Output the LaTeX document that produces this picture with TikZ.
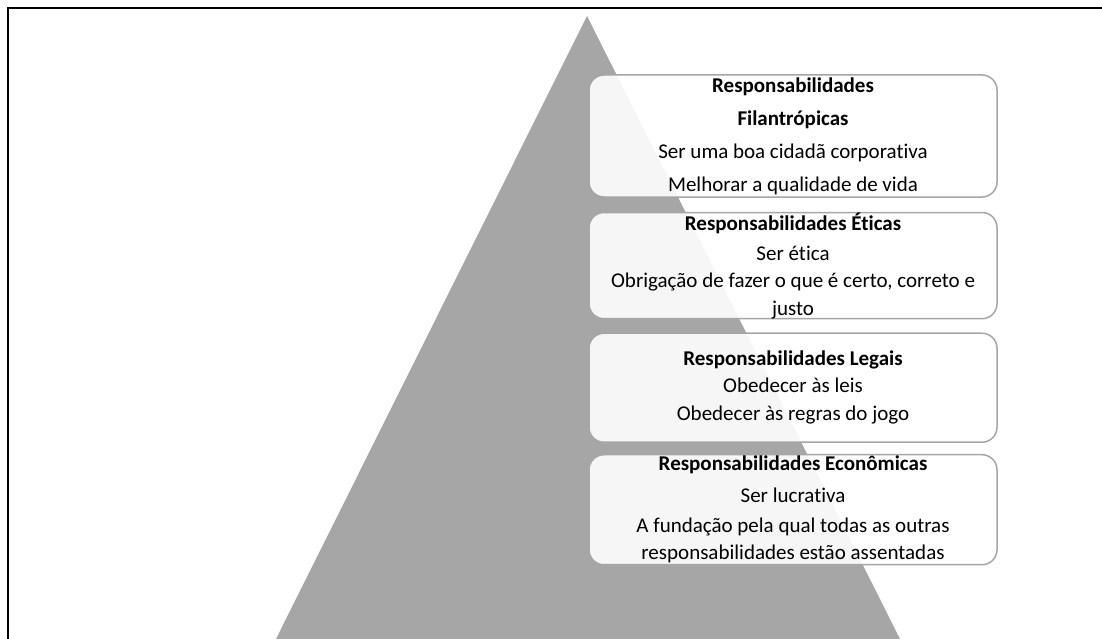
\documentclass[tikz,border=0pt]{standalone}
\usepackage{fontspec}
\setmainfont[Ligatures=NoCommon]{Carlito}
\usetikzlibrary{positioning}
\definecolor{pyrgray}{HTML}{A6A6A6}

\begin{document}
\begin{tikzpicture}[x=1pt,y=-1pt,node distance=15pt,
    level/.style={draw=pyrgray,line width=1.5pt,rounded corners=15pt,fill=white,
      fill opacity=0.9,text opacity=1,minimum width=408pt,align=center,
      inner xsep=2pt,inner ysep=0pt,font=\fontsize{21}{27}\selectfont}]
    \useasboundingbox (0,0) rectangle (1102,639);
    % Frame and pyramid
    \draw[line width=2pt] (7.7,639) -- (7.7,8.3) -- (1102,8.3);
    \fill[pyrgray] (587,16) -- (276,639) -- (900,639) -- cycle;
    % Levels, top to bottom
    \node[level,minimum height=122pt] (fil) at (793,136)
      {\textbf{Responsabilidades}\\[6pt]\textbf{Filantrópicas}\\[6pt]Ser uma boa cidadã corporativa\\[6pt]Melhorar a qualidade de vida};
    \node[level,minimum height=106pt,below=14pt of fil] (eti)
      {\textbf{Responsabilidades Éticas}\\[3pt]Ser ética\\Obrigação de fazer o que é certo, correto e\\[1pt]justo};
    \node[level,minimum height=109pt,below=13pt of eti] (leg)
      {\textbf{Responsabilidades Legais}\\Obedecer às leis\\[1pt]Obedecer às regras do jogo};
    \node[level,minimum height=110pt,below=11pt of leg] (eco)
      {\textbf{Responsabilidades Econômicas}\\[5pt]Ser lucrativa\\[3pt]A fundação pela qual todas as outras\\responsabilidades estão assentadas};
  \end{tikzpicture}
\end{document}
